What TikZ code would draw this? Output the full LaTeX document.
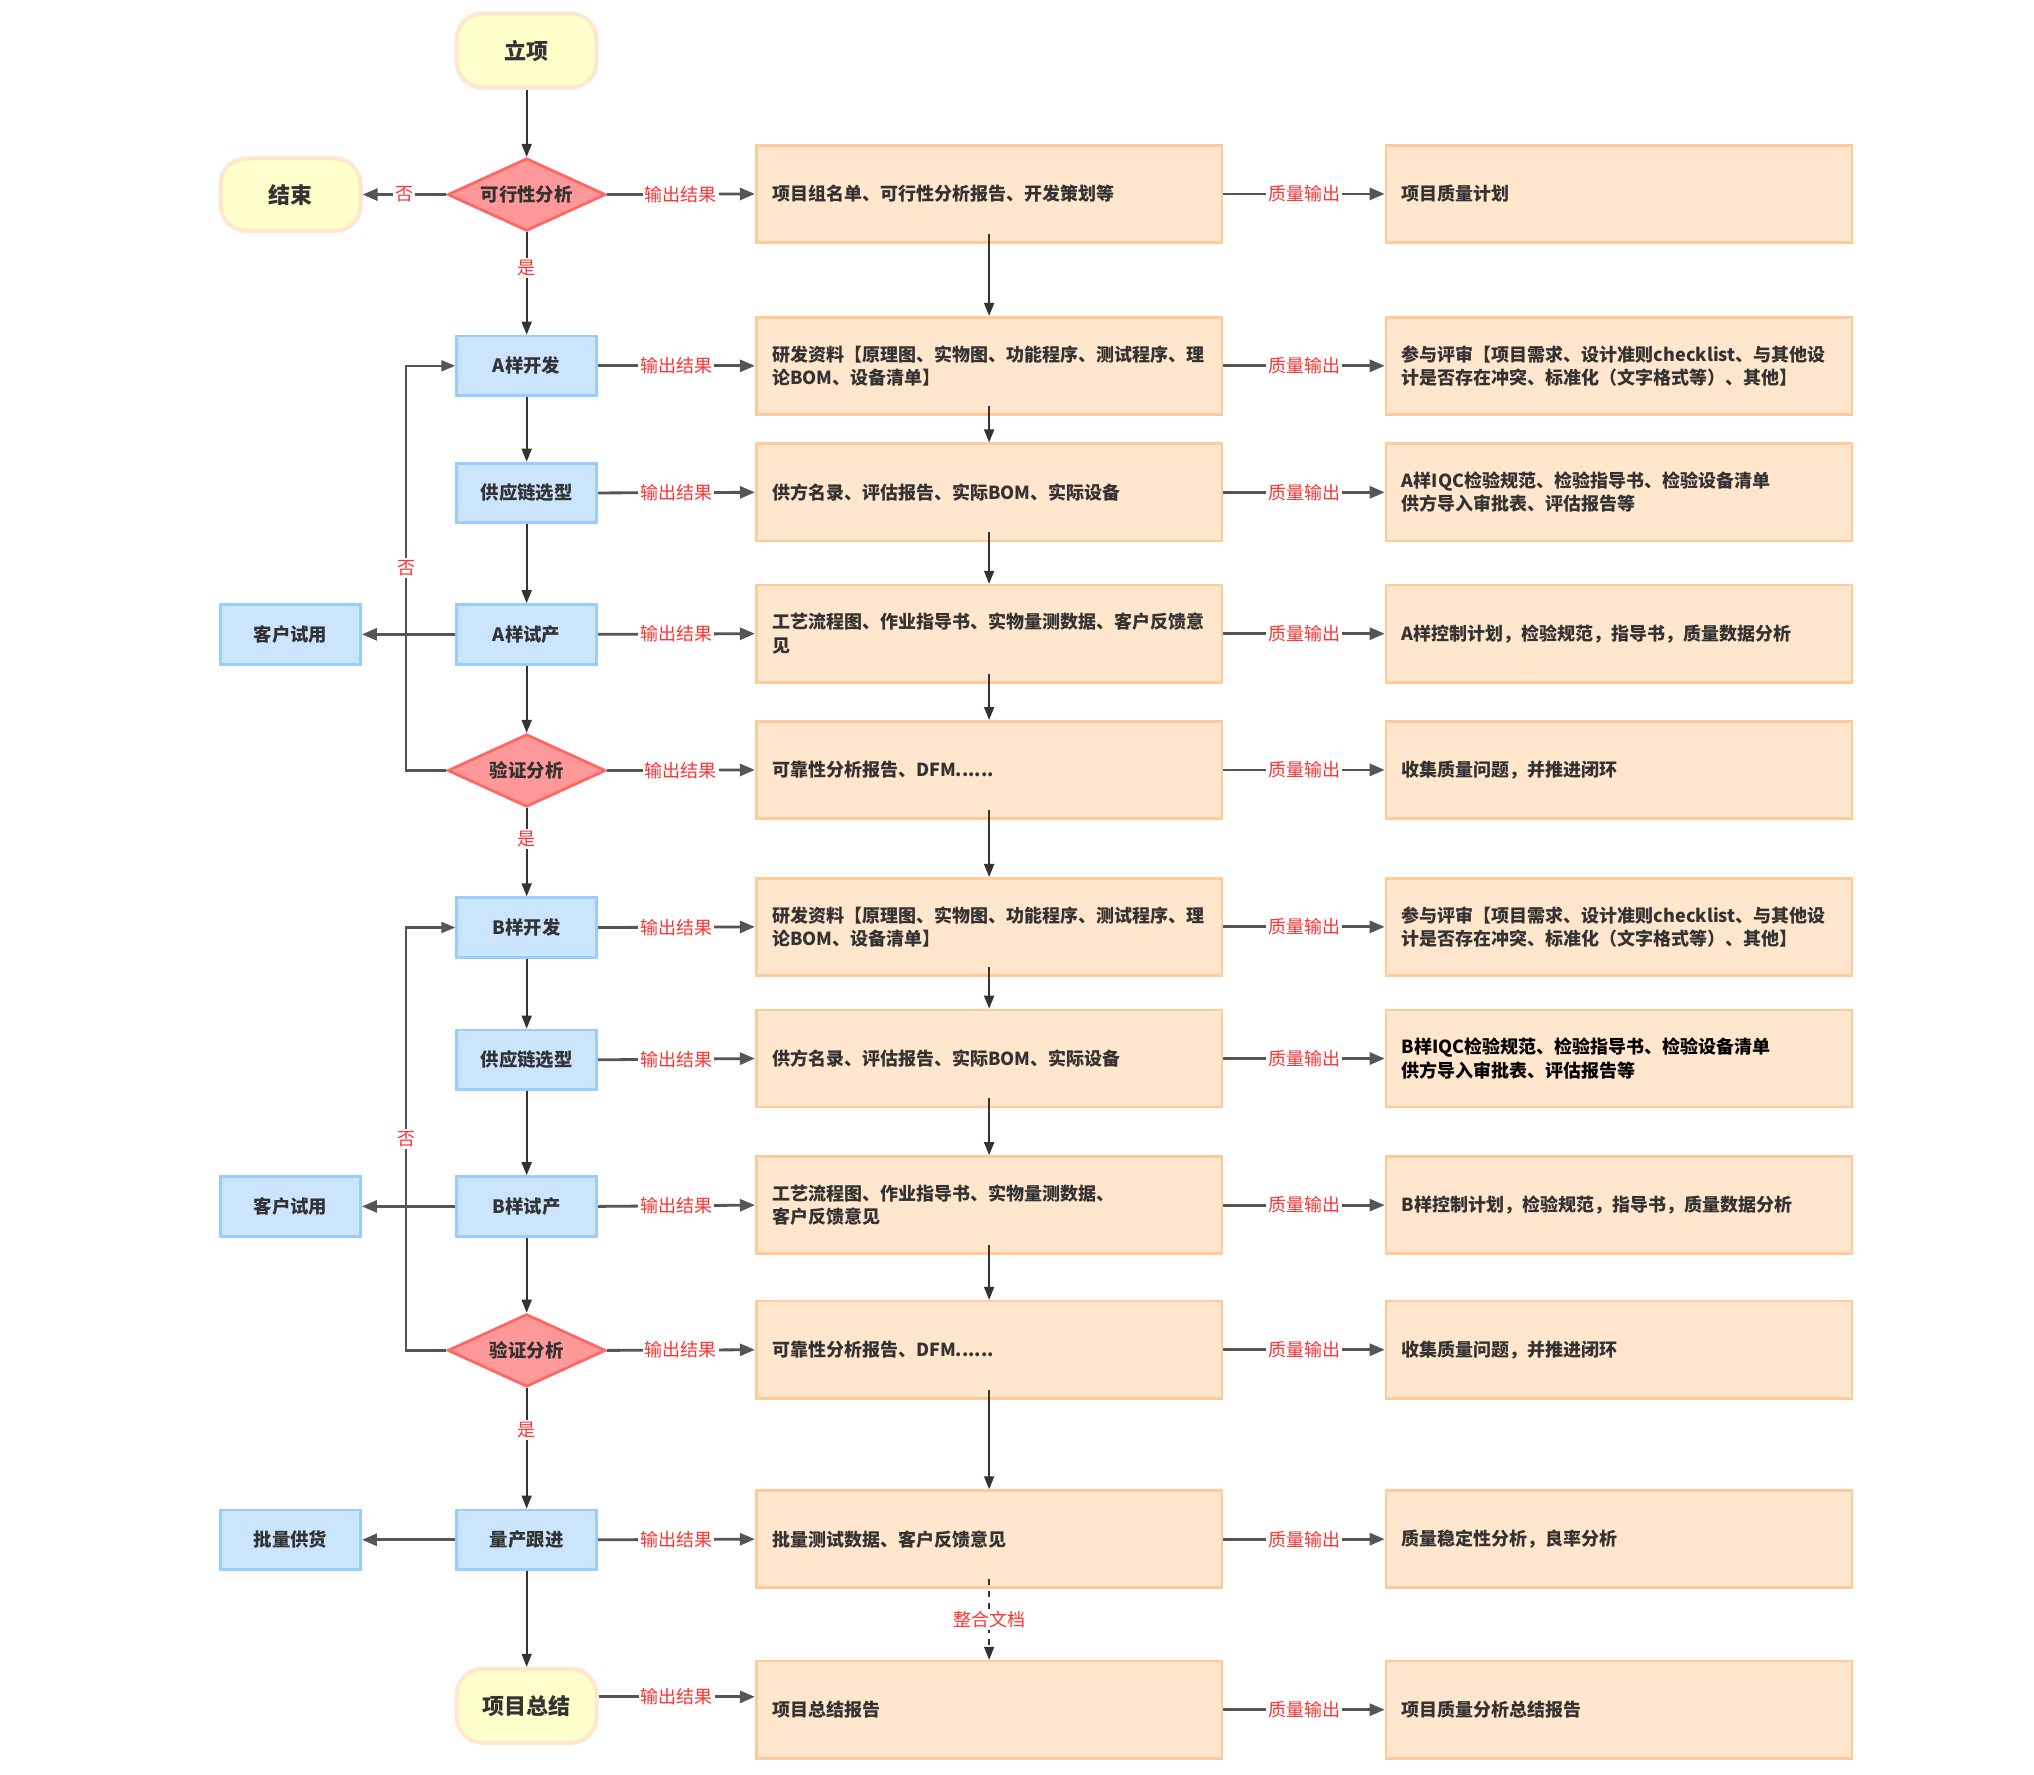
\documentclass[tikz,border=0pt]{standalone}
\usepackage{fontspec}
\setmainfont{Noto Sans CJK SC}
\usetikzlibrary{arrows.meta,shapes.geometric}
\definecolor{termfill}{HTML}{FFFFCC}
\definecolor{termborder}{HTML}{FFE6CC}
\definecolor{procfill}{HTML}{CCE5FF}
\definecolor{procborder}{HTML}{99CCFF}
\definecolor{decfill}{HTML}{FF9999}
\definecolor{decborder}{HTML}{FF6666}
\definecolor{outfill}{HTML}{FFE6CC}
\definecolor{outborder}{HTML}{FFCC99}
\definecolor{txt}{HTML}{333333}
\definecolor{linec}{HTML}{333333}
\definecolor{linecb}{HTML}{555555}
\definecolor{labred}{HTML}{FF3333}
\tikzset{
  term/.style={rectangle, rounded corners=13pt, draw=termborder, line width=2pt, fill=termfill,
    minimum width=70pt, minimum height=37pt, font=\bfseries\fontsize{11}{13}\selectfont, text=txt},
  proc/.style={rectangle, draw=procborder, line width=1.4pt, fill=procfill,
    minimum width=70pt, minimum height=29.8pt, font=\bfseries\fontsize{9.2}{11}\selectfont, text=txt},
  dec/.style={diamond, aspect=2.18, inner sep=0pt, draw=decborder, line width=1.4pt, fill=decfill,
    minimum width=79pt, minimum height=36.3pt, font=\bfseries\fontsize{9.2}{11}\selectfont, text=txt},
  outbox/.style={rectangle, draw=outborder, line width=1.3pt, fill=outfill, inner sep=0pt,
    minimum width=232.9pt, minimum height=48.6pt, text width=217pt, align=left,
    font=\bfseries\fontsize{9}{11.7}\selectfont, text=txt},
  flow/.style={draw=linec, line width=0.9pt, -{Triangle[length=6.5pt,width=5pt]}},
  outarr/.style={draw=linecb, line width=1.4pt, -{Triangle[length=7.5pt,width=6pt]}},
  loopl/.style={draw=linecb, line width=1.1pt, -{Triangle[length=7pt,width=5.5pt]}},
  lab/.style={fill=white, text=labred, font=\fontsize{9}{10}\selectfont, inner sep=1pt},
}
\begin{document}
\begin{tikzpicture}[x=0.6486pt,y=-0.6486pt]
\useasboundingbox (0,0) rectangle (1568,1368);
\fill[white] (0,0) rectangle (1568,1368);

% left flow column
\node[term] (start) at (406,39) {立项};
\node[term, minimum height=36.3pt] (stop) at (224,150) {结束};
\node[dec] (feas) at (406,150) {可行性分析};
\node[proc] (adev) at (406,282) {A样开发};
\node[proc] (asup) at (406,380) {供应链选型};
\node[proc] (atr) at (406,489) {A样试产};
\node[proc] (ky1) at (224,489) {客户试用};
\node[dec] (va) at (406,594) {验证分析};
\node[proc] (bdev) at (406,715) {B样开发};
\node[proc] (bsup) at (406,817) {供应链选型};
\node[proc] (btr) at (406,930) {B样试产};
\node[proc] (ky2) at (224,930) {客户试用};
\node[dec] (vb) at (406,1041) {验证分析};
\node[proc] (mass) at (406,1187) {量产跟进};
\node[proc] (batch) at (224,1187) {批量供货};
\node[term] (sum) at (406,1315) {项目总结};

% middle column
\node[outbox] (m1) at (762.5,149.5) {项目组名单、可行性分析报告、开发策划等};
\node[outbox] (m2) at (762.5,282) {研发资料【原理图、实物图、功能程序、测试程序、理\\论BOM、设备清单】};
\node[outbox] (m3) at (762.5,379.5) {供方名录、评估报告、实际BOM、实际设备};
\node[outbox] (m4) at (762.5,488.5) {工艺流程图、作业指导书、实物量测数据、客户反馈意\\见};
\node[outbox] (m5) at (762.5,593.5) {可靠性分析报告、DFM......};
\node[outbox] (m6) at (762.5,714.5) {研发资料【原理图、实物图、功能程序、测试程序、理\\论BOM、设备清单】};
\node[outbox] (m7) at (762.5,816) {供方名录、评估报告、实际BOM、实际设备};
\node[outbox] (m8) at (762.5,929) {工艺流程图、作业指导书、实物量测数据、\\客户反馈意见};
\node[outbox] (m9) at (762.5,1040.5) {可靠性分析报告、DFM......};
\node[outbox] (m10) at (762.5,1186.5) {批量测试数据、客户反馈意见};
\node[outbox] (m11) at (762.5,1318) {项目总结报告};

% right column
\node[outbox] (q1) at (1248,149.5) {项目质量计划};
\node[outbox] (q2) at (1248,282) {参与评审【项目需求、设计准则checklist、与其他设\\计是否存在冲突、标准化（文字格式等）、其他】};
\node[outbox] (q3) at (1248,379.5) {A样IQC检验规范、检验指导书、检验设备清单\\供方导入审批表、评估报告等};
\node[outbox] (q4) at (1248,488.5) {A样控制计划，检验规范，指导书，质量数据分析};
\node[outbox] (q5) at (1248,593.5) {收集质量问题，并推进闭环};
\node[outbox] (q6) at (1248,714.5) {参与评审【项目需求、设计准则checklist、与其他设\\计是否存在冲突、标准化（文字格式等）、其他】};
\node[outbox, text=black] (q7) at (1248,816) {B样IQC检验规范、检验指导书、检验设备清单\\供方导入审批表、评估报告等};
\node[outbox] (q8) at (1248,929) {B样控制计划，检验规范，指导书，质量数据分析};
\node[outbox] (q9) at (1248,1040.5) {收集质量问题，并推进闭环};
\node[outbox] (q10) at (1248,1186.5) {质量稳定性分析，良率分析};
\node[outbox] (q11) at (1248,1318) {项目质量分析总结报告};

% main vertical flow
\draw[flow] (start) -- (feas);
\draw[flow] (feas) -- (adev) node[pos=0.35,lab]{是};
\draw[flow] (adev) -- (asup);
\draw[flow] (asup) -- (atr);
\draw[flow] (atr) -- (va);
\draw[flow] (va) -- (bdev) node[pos=0.35,lab]{是};
\draw[flow] (bdev) -- (bsup);
\draw[flow] (bsup) -- (btr);
\draw[flow] (btr) -- (vb);
\draw[flow] (vb) -- (mass) node[pos=0.35,lab]{是};
\draw[flow] (mass) -- (sum);

% left arrows
\draw[outarr] (feas) -- (stop) node[midway,lab]{否};
\draw[outarr] (atr) -- (ky1);
\draw[outarr] (btr) -- (ky2);
\draw[outarr] (mass) -- (batch);

% loops
\coordinate (la) at (313,594);
\coordinate (lb) at (313,1041);
\draw[loopl] (va.west) -- (la) |- (adev.west) node[pos=0.25,lab]{否};
\draw[loopl] (vb.west) -- (lb) |- (bdev.west) node[pos=0.25,lab]{否};

% output arrows
\draw[outarr] (feas.east) -- (m1.west) node[midway,lab]{输出结果};
\draw[outarr] (adev.east) -- (m2.west) node[midway,lab]{输出结果};
\draw[outarr] (asup.east) -- (m3.west) node[midway,lab]{输出结果};
\draw[outarr] (atr.east) -- (m4.west) node[midway,lab]{输出结果};
\draw[outarr] (va.east) -- (m5.west) node[midway,lab]{输出结果};
\draw[outarr] (bdev.east) -- (m6.west) node[midway,lab]{输出结果};
\draw[outarr] (bsup.east) -- (m7.west) node[midway,lab]{输出结果};
\draw[outarr] (btr.east) -- (m8.west) node[midway,lab]{输出结果};
\draw[outarr] (vb.east) -- (m9.west) node[midway,lab]{输出结果};
\draw[outarr] (mass.east) -- (m10.west) node[midway,lab]{输出结果};
\coordinate (s1) at ([yshift=4.5pt]sum.east);
\draw[outarr] (s1) -- (s1 -| m11.west) node[midway,lab]{输出结果};

% quality arrows
\foreach \i in {1,...,11} {
  \draw[outarr] (m\i.east) -- (q\i.west) node[midway,lab]{质量输出};
}

% middle vertical arrows
\foreach \a/\b in {1/2,2/3,3/4,4/5,5/6,6/7,7/8,8/9,9/10} {
  \draw[flow] ([yshift=5pt]m\a.south) -- (m\b.north);
}
\draw[flow, dash pattern=on 3pt off 3pt] ([yshift=5pt]m10.south) -- (m11.north) node[midway,lab]{整合文档};
\end{tikzpicture}
\end{document}
